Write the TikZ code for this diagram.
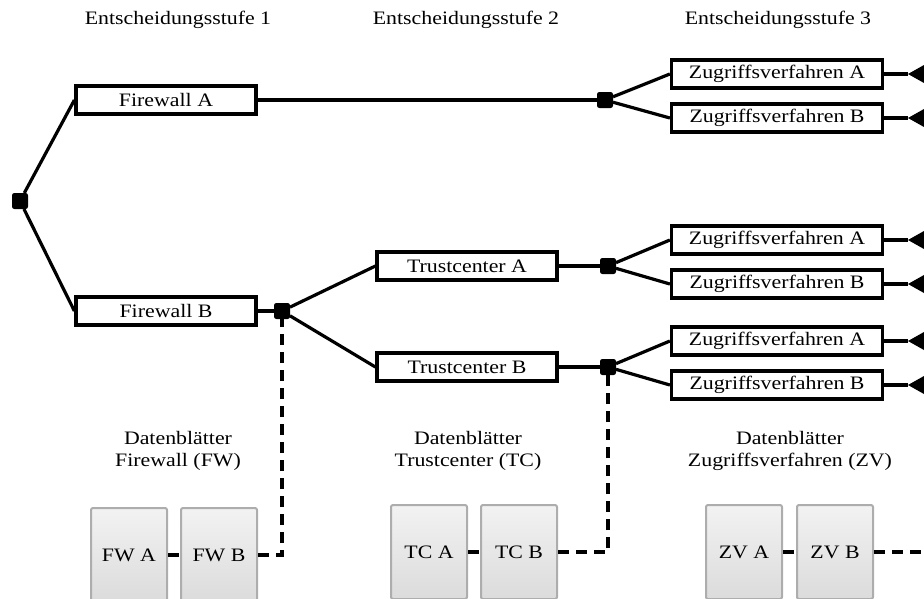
\documentclass[tikz,border=0pt]{standalone}
\usepackage{fontspec}
\setmainfont{Liberation Serif}[FakeStretch=1.15]
\begin{document}
\begin{tikzpicture}[x=1pt,y=-1pt,
  every node/.style={font=\fontsize{19}{21}\selectfont},
  optbox/.style={draw=black,line width=3.2pt,fill=white,minimum height=28pt,inner sep=0pt},
  fwbox/.style={optbox,minimum width=180pt},
  zvbox/.style={optbox,minimum width=211pt},
  decision/.style={fill=black,draw=black,line width=1pt,rounded corners=2pt,minimum size=15pt,inner sep=0pt},
  branch/.style={line width=3.2pt},
  link/.style={line width=3.2pt,dash pattern=on 11pt off 7pt},
  sheet/.style={draw=black!32,line width=2pt,rounded corners=2pt,top color=black!5,bottom color=black!14,
                minimum width=76pt,minimum height=94pt,inner sep=0pt},
  caption/.style={align=center,font=\fontsize{19}{22}\selectfont},
  marker/.style={fill=black}]
\useasboundingbox (0,0) rectangle (924,598);
\clip (0,0) rectangle (924,598);

% stage headings
\node (h1) at (178,20) {Entscheidungsstufe 1};
\node (h2) at (466,20) {Entscheidungsstufe 2};
\node (h3) at (778,20) {Entscheidungsstufe 3};

% stage 1
\node[decision] (root) at (20,201) {};
\node[fwbox] (fwA) at (166,100) {Firewall A};
\node[fwbox] (fwB) at (166,311) {Firewall B};

% stage 2
\node[decision] (dA) at (605,100) {};
\node[decision] (dB) at (282,311) {};
\node[fwbox] (tcA) at (467,266) {Trustcenter A};
\node[fwbox] (tcB) at (467,367) {Trustcenter B};
\node[decision] (dTA) at (608,266) {};
\node[decision] (dTB) at (608,367) {};

% stage 3
\node[zvbox] (z1) at (777,74) {Zugriffsverfahren A};
\node[zvbox] (z2) at (777,118) {Zugriffsverfahren B};
\node[zvbox] (z3) at (777,240) {Zugriffsverfahren A};
\node[zvbox] (z4) at (777,284) {Zugriffsverfahren B};
\node[zvbox] (z5) at (777,341) {Zugriffsverfahren A};
\node[zvbox] (z6) at (777,385) {Zugriffsverfahren B};

% branches
\draw[branch] (root) -- (fwA.west);
\draw[branch] (root) -- (fwB.west);
\draw[branch] (fwA.east) -- (dA);
\draw[branch] (fwB.east) -- (dB);
\draw[branch] (dB) -- (tcA.west);
\draw[branch] (dB) -- (tcB.west);
\draw[branch] (tcA.east) -- (dTA);
\draw[branch] (tcB.east) -- (dTB);
\draw[branch] (dA) -- (z1.west);
\draw[branch] (dA) -- (z2.west);
\draw[branch] (dTA) -- (z3.west);
\draw[branch] (dTA) -- (z4.west);
\draw[branch] (dTB) -- (z5.west);
\draw[branch] (dTB) -- (z6.west);

% outcome markers at the right edge
\foreach \n/\y in {1/74,2/118,3/240,4/284,5/341,6/385}{
  \coordinate (t\n) at (908,\y);
  \draw[branch] (z\n.east) -- (t\n);
  \fill[marker] (t\n) -- ++(16,-9) -- ++(0,18) -- cycle;
}

% data sheets
\node[caption] (cFW) at (178,451) {Datenblätter\\Firewall (FW)};
\node[caption] (cTC) at (468,451) {Datenblätter\\Trustcenter (TC)};
\node[caption] (cZV) at (790,451) {Datenblätter\\Zugriffsverfahren (ZV)};

\node[sheet] (fwa) at (129,555) {FW A};
\node[sheet] (fwb) at (219,555) {FW B};
\node[sheet] (tca) at (429,552) {TC A};
\node[sheet] (tcb) at (519,552) {TC B};
\node[sheet] (zva) at (744,552) {ZV A};
\node[sheet] (zvb) at (835,552) {ZV B};

\coordinate (eZV) at (930,552);
\draw[link] (fwa) -- (fwb);
\draw[link] (tca) -- (tcb);
\draw[link] (zva) -- (zvb);
\draw[link] (fwb.east) -| (dB);
\draw[link] (tcb.east) -| (dTB);
\draw[link] (zvb.east) -- (eZV);
\end{tikzpicture}
\end{document}
